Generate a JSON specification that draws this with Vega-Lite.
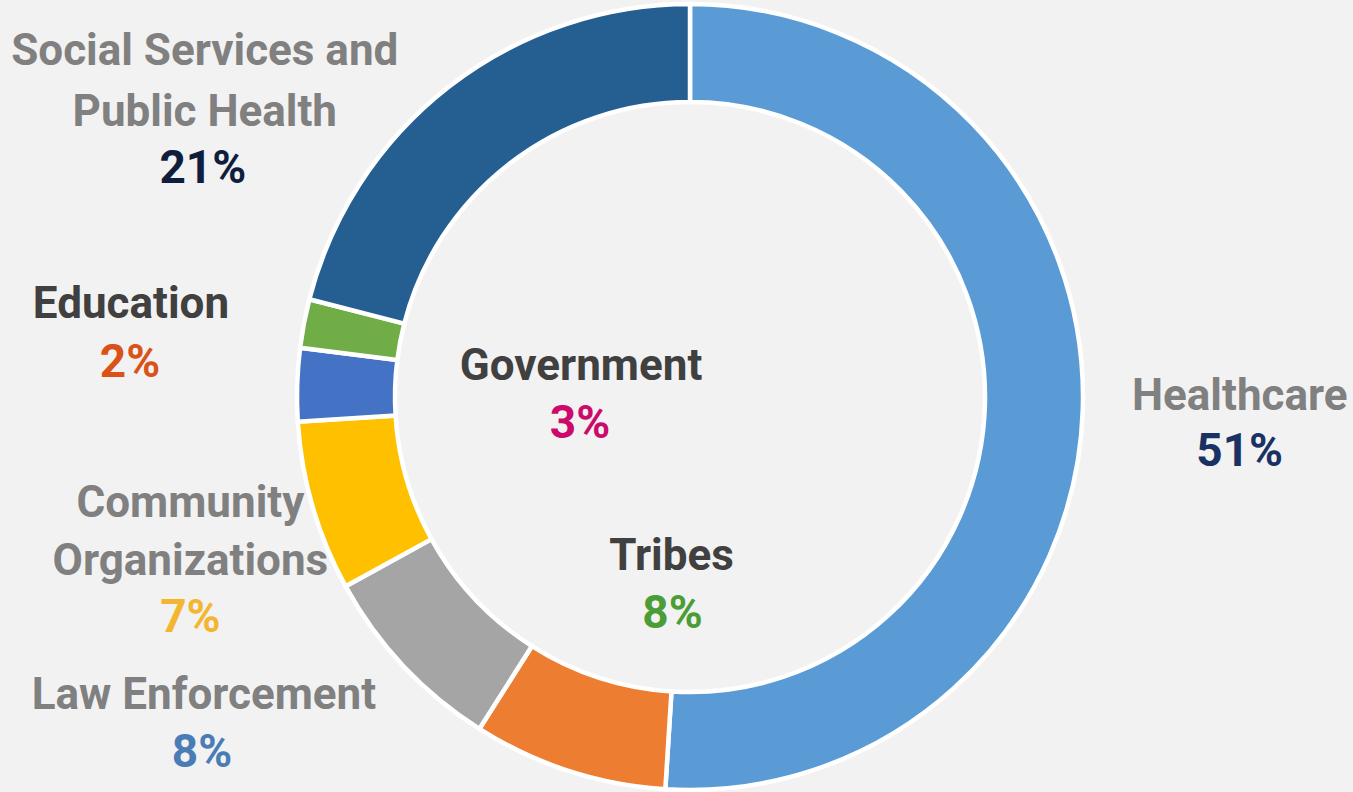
{
  "$schema": "https://vega.github.io/schema/vega-lite/v6.json",
  "width": 1326,
  "height": 790,
  "autosize": {"type": "none"},
  "padding": {"left": 27, "top": 2, "right": 0, "bottom": 0},
  "background": "#F2F2F2",
  "view": {"stroke": null},
  "config": {"text": {"font": "Roboto", "fontWeight": "bold", "fontSize": 44, "align": "center", "baseline": "alphabetic", "lineBreak": "\n"}},
  "data": {"values": [
    {"category": "Healthcare", "label": "Healthcare", "share": 0.51, "rank": 1},
    {"category": "Tribes", "label": "Tribes", "share": 0.08, "rank": 2},
    {"category": "Law Enforcement", "label": "Law Enforcement", "share": 0.08, "rank": 3},
    {"category": "Community Organizations", "label": "Community\nOrganizations", "share": 0.07, "rank": 4},
    {"category": "Government", "label": "Government", "share": 0.03, "rank": 5},
    {"category": "Education", "label": "Education", "share": 0.02, "rank": 6},
    {"category": "Social Services and Public Health", "label": "Social Services and\nPublic Health", "share": 0.21, "rank": 7}
  ]},
  "encoding": {
    "theta": {"field": "share", "type": "quantitative", "stack": true},
    "order": {"field": "rank", "type": "quantitative"}
  },
  "layer": [
    {
      "mark": {"type": "arc", "innerRadius": 295, "outerRadius": 393, "stroke": "#FFFFFF", "strokeWidth": 4.5},
      "encoding": {
        "color": {"field": "category", "type": "nominal", "legend": null,
          "scale": {"domain": ["Healthcare", "Tribes", "Law Enforcement", "Community Organizations", "Government", "Education", "Social Services and Public Health"],
                    "range": ["#5B9BD5", "#ED7D31", "#A5A5A5", "#FFC000", "#4472C4", "#70AD47", "#255E91"]}}
      }
    },
    {"mark": {"type": "text", "radius": 550, "dx": 0, "dy": -4, "color": "#808080"},
     "encoding": {"text": {"condition": {"test": "datum.category === 'Healthcare'", "field": "label", "type": "nominal"}, "value": ""}}},
    {"mark": {"type": "text", "radius": 550, "dx": 0, "dy": 52, "fontSize": 46, "color": "#1A3263"},
     "encoding": {"text": {"condition": {"test": "datum.category === 'Healthcare'", "field": "share", "type": "quantitative", "format": ".0%"}, "value": ""}}},
    {"mark": {"type": "text", "radius": 170, "dx": 34, "dy": 11, "color": "#404040"},
     "encoding": {"text": {"condition": {"test": "datum.category === 'Tribes'", "field": "label", "type": "nominal"}, "value": ""}}},
    {"mark": {"type": "text", "radius": 170, "dx": 35, "dy": 69, "fontSize": 46, "color": "#4A9E35"},
     "encoding": {"text": {"condition": {"test": "datum.category === 'Tribes'", "field": "share", "type": "quantitative", "format": ".0%"}, "value": ""}}},
    {"mark": {"type": "text", "radius": 568, "dx": -72, "dy": -77, "color": "#808080"},
     "encoding": {"text": {"condition": {"test": "datum.category === 'Law Enforcement'", "field": "label", "type": "nominal"}, "value": ""}}},
    {"mark": {"type": "text", "radius": 568, "dx": -74, "dy": -19, "fontSize": 46, "color": "#4A7DB5"},
     "encoding": {"text": {"condition": {"test": "datum.category === 'Law Enforcement'", "field": "share", "type": "quantitative", "format": ".0%"}, "value": ""}}},
    {"mark": {"type": "text", "radius": 514, "dx": -6, "dy": -23, "lineHeight": 58, "color": "#808080"},
     "encoding": {"text": {"condition": {"test": "datum.category === 'Community Organizations'", "field": "label", "type": "nominal"}, "value": ""}}},
    {"mark": {"type": "text", "radius": 514, "dx": -6, "dy": 92, "fontSize": 46, "color": "#F4B630"},
     "encoding": {"text": {"condition": {"test": "datum.category === 'Community Organizations'", "field": "share", "type": "quantitative", "format": ".0%"}, "value": ""}}},
    {"mark": {"type": "text", "radius": 110, "dx": 1, "dy": -14, "color": "#404040"},
     "encoding": {"text": {"condition": {"test": "datum.category === 'Government'", "field": "label", "type": "nominal"}, "value": ""}}},
    {"mark": {"type": "text", "radius": 110, "dx": 0, "dy": 44, "fontSize": 46, "color": "#CC0A6B"},
     "encoding": {"text": {"condition": {"test": "datum.category === 'Government'", "field": "share", "type": "quantitative", "format": ".0%"}, "value": ""}}},
    {"mark": {"type": "text", "radius": 564, "dx": -5, "dy": 27, "color": "#404040"},
     "encoding": {"text": {"condition": {"test": "datum.category === 'Education'", "field": "label", "type": "nominal"}, "value": ""}}},
    {"mark": {"type": "text", "radius": 564, "dx": -6, "dy": 86, "fontSize": 46, "color": "#D95319"},
     "encoding": {"text": {"condition": {"test": "datum.category === 'Education'", "field": "share", "type": "quantitative", "format": ".0%"}, "value": ""}}},
    {"mark": {"type": "text", "radius": 560, "dx": -142, "dy": 110, "lineHeight": 61, "color": "#808080"},
     "encoding": {"text": {"condition": {"test": "datum.category === 'Social Services and Public Health'", "field": "label", "type": "nominal"}, "value": ""}}},
    {"mark": {"type": "text", "radius": 560, "dx": -144, "dy": 228, "fontSize": 46, "color": "#0F1E3D"},
     "encoding": {"text": {"condition": {"test": "datum.category === 'Social Services and Public Health'", "field": "share", "type": "quantitative", "format": ".0%"}, "value": ""}}}
  ]
}
